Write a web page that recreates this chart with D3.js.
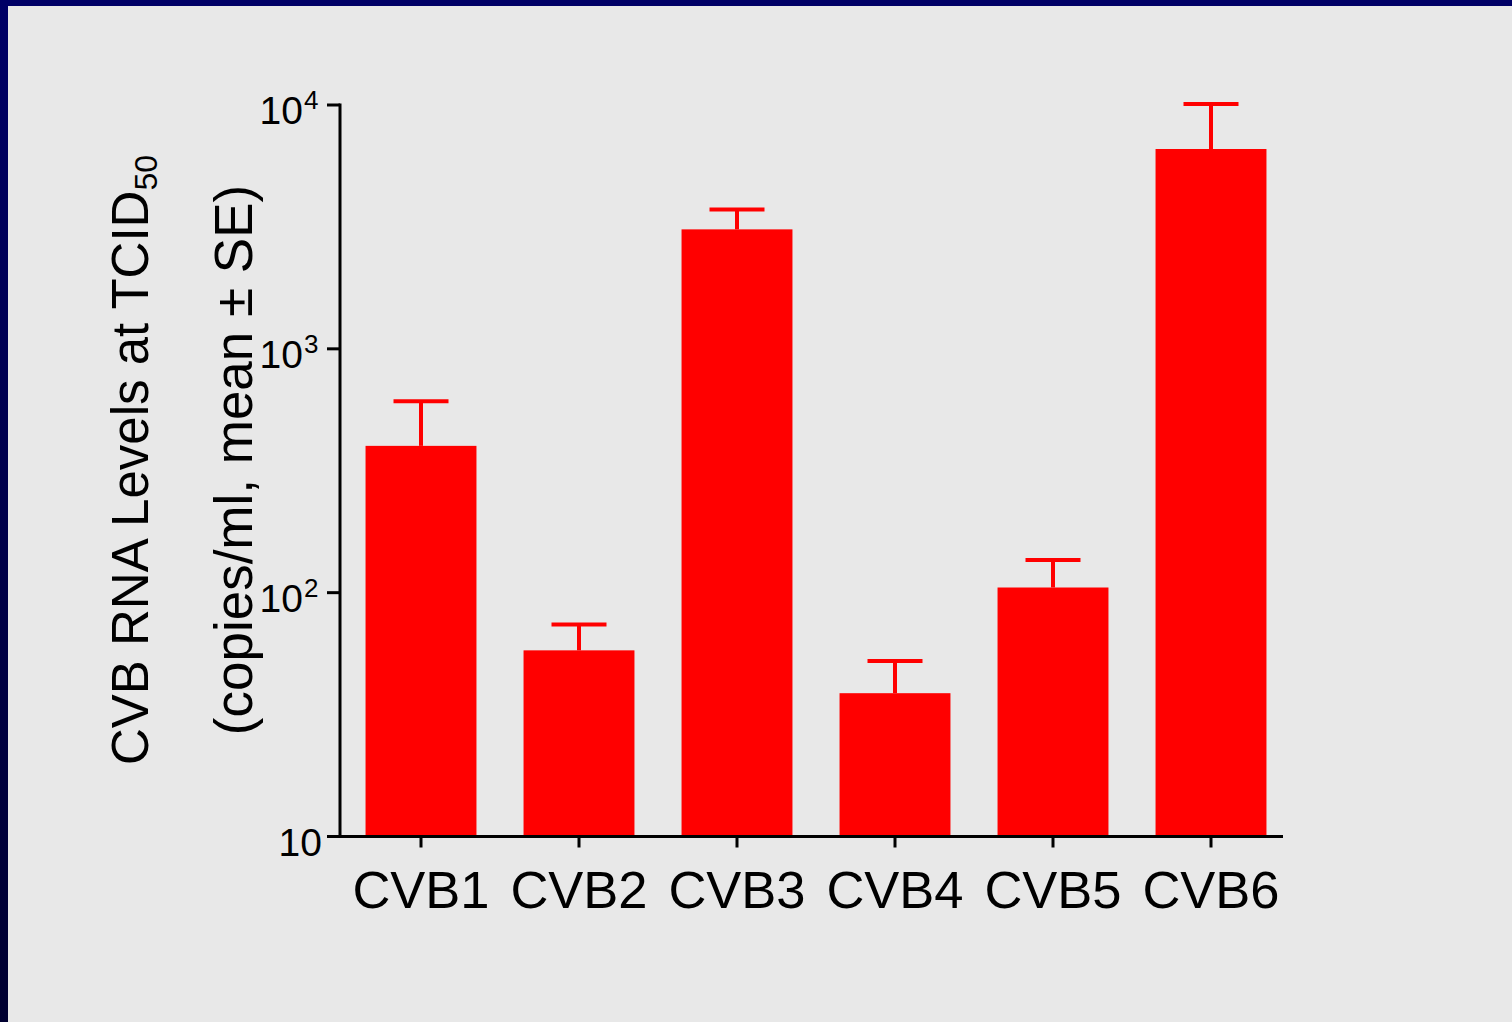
<!DOCTYPE html>
<html>
<head>
<meta charset="utf-8">
<script src="https://cdn.jsdelivr.net/npm/d3@7"></script>
<style>
  html, body { margin: 0; padding: 0; background: #e8e8e8; }
  svg { display: block; }
  text { font-family: "Liberation Sans", Arial, sans-serif; fill: #000; }
</style>
</head>
<body>
<svg id="chart" width="1512" height="1022"></svg>
<script>
// Coxsackievirus B serotypes and RNA levels (copies/ml) at TCID50
const categories = ["CVB1", "CVB2", "CVB3", "CVB4", "CVB5", "CVB6"];
const means = [400, 58, 3090, 38.7, 105, 6600];
const se = [210, 16, 635, 13.8, 31, 3500];

// log axis ticks: base and superscript exponent
const tickValues = [10, 100, 1000, 10000];
const tickBase = ["10", "10", "10", "10"];
const tickExp = ["", "2", "3", "4"];

const svg = d3.select("#chart");
const W = 1512, H = 1022;

// frame: grey panel with navy band on top and left edge
const defs = svg.append("defs");
const grad = defs.append("linearGradient").attr("id", "edge")
  .attr("x1", 0).attr("y1", 0).attr("x2", 0).attr("y2", 1);
grad.append("stop").attr("offset", "0%").attr("stop-color", "#000066");
grad.append("stop").attr("offset", "100%").attr("stop-color", "#000030");

svg.append("rect").attr("width", W).attr("height", H).attr("fill", "#e8e8e8");
svg.append("rect").attr("x", 0).attr("y", 0).attr("width", W).attr("height", 6).attr("fill", "#000066");
svg.append("rect").attr("x", 0).attr("y", 0).attr("width", 8).attr("height", H).attr("fill", "url(#edge)");

const x0 = 340, xEnd = 1283;
const y = d3.scaleLog().domain([10, 10000]).range([836.5, 105]);
const x = d3.scaleBand().domain(categories)
  .range([342, 1290]).paddingInner(0.298).paddingOuter(0.149);

const red = "#ff0000";

// bars
svg.append("g").selectAll("rect")
  .data(categories)
  .join("rect")
  .attr("x", (d) => x(d))
  .attr("width", x.bandwidth())
  .attr("y", (d, i) => y(means[i]))
  .attr("height", (d, i) => y(10) - y(means[i]))
  .attr("fill", red);

// upper error bars (mean + SE)
const capW = 55;
const eb = svg.append("g").attr("stroke", red).attr("stroke-width", 4);
categories.forEach((c, i) => {
  const cx = x(c) + x.bandwidth() / 2;
  const top = y(means[i] + se[i]);
  eb.append("line").attr("x1", cx).attr("x2", cx)
    .attr("y1", y(means[i])).attr("y2", top);
  eb.append("line").attr("x1", cx - capW / 2).attr("x2", cx + capW / 2)
    .attr("y1", top).attr("y2", top);
});

// y axis
const yAxis = svg.append("g").attr("stroke", "#000").attr("stroke-width", 3);
yAxis.append("line").attr("x1", x0).attr("x2", x0)
  .attr("y1", y(10000) - 1.5).attr("y2", y(10) + 1.5);
tickValues.forEach((v) => {
  yAxis.append("line").attr("x1", x0 - 13).attr("x2", x0)
    .attr("y1", y(v)).attr("y2", y(v));
});
const yl = svg.append("g");
tickValues.forEach((v, i) => {
  yl.append("text")
    .attr("x", tickExp[i] ? 303 : 322)
    .attr("y", y(v) + 19)
    .attr("font-size", 39)
    .attr("text-anchor", "end")
    .text(tickBase[i]);
  if (tickExp[i]) {
    yl.append("text")
      .attr("x", 304)
      .attr("y", y(v) + 4)
      .attr("font-size", 26)
      .text(tickExp[i]);
  }
});

// x axis
const xAxis = svg.append("g").attr("stroke", "#000").attr("stroke-width", 3);
xAxis.append("line").attr("x1", x0 - 1.5).attr("x2", xEnd)
  .attr("y1", y(10)).attr("y2", y(10));
categories.forEach((c) => {
  const cx = x(c) + x.bandwidth() / 2;
  xAxis.append("line").attr("x1", cx).attr("x2", cx)
    .attr("y1", y(10)).attr("y2", y(10) + 11);
});
svg.append("g").selectAll("text")
  .data(categories)
  .join("text")
  .attr("x", (d) => x(d) + x.bandwidth() / 2)
  .attr("y", 908)
  .attr("font-size", 52.5)
  .attr("text-anchor", "middle")
  .text((d) => d);

// y axis title, two lines
const t1 = svg.append("text")
  .attr("transform", "translate(148,460) rotate(-90)")
  .attr("font-size", 51)
  .attr("text-anchor", "middle");
t1.append("tspan").text("CVB RNA Levels at TCID");
t1.append("tspan").attr("font-size", 32).attr("dy", 9).text("50");

svg.append("text")
  .attr("transform", "translate(252,460) rotate(-90)")
  .attr("font-size", 53)
  .attr("text-anchor", "middle")
  .text("(copies/ml, mean \u00b1 SE)");
</script>
</body>
</html>
